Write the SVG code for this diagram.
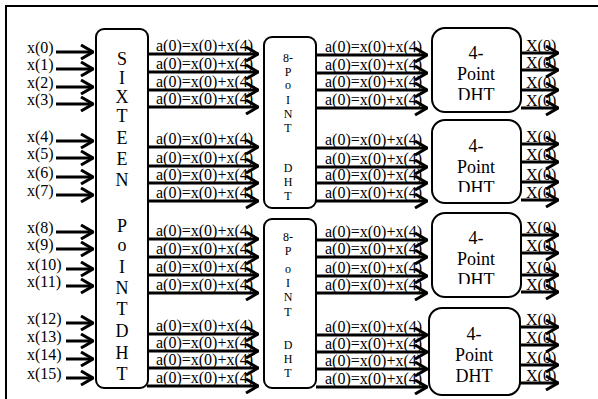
<svg xmlns="http://www.w3.org/2000/svg" width="598" height="399" viewBox="0 0 598 399">
<style>
.box{fill:#fff;stroke:#000;stroke-width:2}
.t{font-family:"Liberation Serif","Times New Roman",serif;fill:#000}
.lab{font-size:16px}
.big{font-size:18px;text-anchor:middle}
.sm{font-size:12px;text-anchor:middle}
.pt{font-size:18px;text-anchor:middle}
.w{stroke:#000;stroke-width:3;fill:none;marker-end:url(#chev)}
</style>
<defs>
<marker id="chev" viewBox="0 0 14 16" refX="13" refY="8" markerWidth="14" markerHeight="16" markerUnits="userSpaceOnUse" orient="auto">
<path d="M1,1 L13,8 L1,15" fill="none" stroke="#000" stroke-width="3"/>
</marker>
<clipPath id="c1"><rect x="432" y="28" width="89" height="72"/></clipPath>
<clipPath id="c2"><rect x="432" y="120" width="89" height="72"/></clipPath>
<clipPath id="c3"><rect x="432" y="213" width="89" height="71"/></clipPath>
</defs>
<rect width="598" height="399" fill="#fff"/>
<g id="frame" fill="none" stroke="#000" stroke-width="2">
<path d="M6,399 V6 H598"/>
</g>
<g id="sixteen">
<rect class="box" x="96" y="29" width="52" height="359" rx="8"/>
<g class="t big">
<text x="122" y="65">S</text><text x="122" y="84">I</text><text x="122" y="103">X</text><text x="122" y="122">T</text>
<text x="122" y="144">E</text><text x="122" y="165">E</text><text x="122" y="186">N</text>
<text x="122" y="232">P</text><text x="122" y="251">o</text><text x="122" y="273">I</text><text x="122" y="294">N</text>
<text x="122" y="315">T</text><text x="122" y="337">D</text><text x="122" y="359">H</text><text x="122" y="380">T</text>
</g>
</g>
<g id="dht8a">
<rect class="box" x="264" y="37" width="52" height="171" rx="8"/>
<g class="t sm">
<text x="288" y="62">8-</text><text x="288" y="76">P</text><text x="288" y="89">o</text><text x="288" y="104">I</text>
<text x="288" y="118">N</text><text x="288" y="132">T</text><text x="288" y="172">D</text><text x="288" y="186">H</text><text x="288" y="200">T</text>
</g>
</g>
<g id="dht8b">
<rect class="box" x="264" y="219" width="52" height="169" rx="8"/>
<g class="t sm">
<text x="288" y="241">8-</text><text x="288" y="255">P</text><text x="288" y="273">o</text><text x="288" y="287">I</text>
<text x="288" y="301">N</text><text x="288" y="316">T</text><text x="288" y="349">D</text><text x="288" y="363">H</text><text x="288" y="377">T</text>
</g>
</g>
<g id="dht4a">
<rect class="box" x="432" y="28" width="89" height="84" rx="13"/>
<g class="t pt" clip-path="url(#c1)"><text x="476" y="59">4-</text><text x="476" y="80">Point</text><text x="476" y="101">DHT</text></g>
</g>
<g id="dht4b">
<rect class="box" x="432" y="120" width="89" height="83" rx="13"/>
<g class="t pt" clip-path="url(#c2)"><text x="476" y="152">4-</text><text x="476" y="173">Point</text><text x="476" y="194">DHT</text></g>
</g>
<g id="dht4c">
<rect class="box" x="432" y="213" width="89" height="84" rx="13"/>
<g class="t pt" clip-path="url(#c3)"><text x="476" y="244">4-</text><text x="476" y="265">Point</text><text x="476" y="286">DHT</text></g>
</g>
<g id="dht4d">
<rect class="box" x="429" y="308" width="91" height="87" rx="13"/>
<g class="t pt"><text x="474" y="340">4-</text><text x="474" y="361">Point</text><text x="474" y="382">DHT</text></g>
</g>
<g id="input-labels" class="t lab">
<text x="27" y="53">x(0)</text><text x="27" y="70">x(1)</text><text x="27" y="88">x(2)</text><text x="27" y="105">x(3)</text>
<text x="27" y="142">x(4)</text><text x="27" y="159">x(5)</text><text x="27" y="178">x(6)</text><text x="27" y="196">x(7)</text>
<text x="27" y="233">x(8)</text><text x="27" y="250">x(9)</text><text x="27" y="270">x(10)</text><text x="27" y="287">x(11)</text>
<text x="27" y="324">x(12)</text><text x="27" y="342">x(13)</text><text x="27" y="360">x(14)</text><text x="27" y="379">x(15)</text>
</g>
<g id="mid-labels" class="t lab">
<text x="156" y="51">a(0)=x(0)+x(4)</text><text x="156" y="69">a(0)=x(0)+x(4)</text><text x="156" y="87">a(0)=x(0)+x(4)</text><text x="156" y="104">a(0)=x(0)+x(4)</text>
<text x="156" y="144">a(0)=x(0)+x(4)</text><text x="156" y="163">a(0)=x(0)+x(4)</text><text x="156" y="180">a(0)=x(0)+x(4)</text><text x="156" y="198">a(0)=x(0)+x(4)</text>
<text x="156" y="236">a(0)=x(0)+x(4)</text><text x="156" y="254">a(0)=x(0)+x(4)</text><text x="156" y="272">a(0)=x(0)+x(4)</text><text x="156" y="290">a(0)=x(0)+x(4)</text>
<text x="156" y="331">a(0)=x(0)+x(4)</text><text x="156" y="348">a(0)=x(0)+x(4)</text><text x="156" y="365">a(0)=x(0)+x(4)</text><text x="156" y="383">a(0)=x(0)+x(4)</text>
<text x="325" y="52">a(0)=x(0)+x(4)</text><text x="325" y="70">a(0)=x(0)+x(4)</text><text x="325" y="87">a(0)=x(0)+x(4)</text><text x="325" y="105">a(0)=x(0)+x(4)</text>
<text x="325" y="145">a(0)=x(0)+x(4)</text><text x="325" y="164">a(0)=x(0)+x(4)</text><text x="325" y="180">a(0)=x(0)+x(4)</text><text x="325" y="198">a(0)=x(0)+x(4)</text>
<text x="325" y="237">a(0)=x(0)+x(4)</text><text x="325" y="254">a(0)=x(0)+x(4)</text><text x="325" y="273">a(0)=x(0)+x(4)</text><text x="325" y="290">a(0)=x(0)+x(4)</text>
<text x="325" y="332">a(0)=x(0)+x(4)</text><text x="325" y="349">a(0)=x(0)+x(4)</text><text x="325" y="366">a(0)=x(0)+x(4)</text><text x="325" y="384">a(0)=x(0)+x(4)</text>
</g>
<g id="output-labels" class="t lab">
<text x="526" y="51">X(0)</text><text x="526" y="68">X(0)</text><text x="526" y="88">X(0)</text><text x="526" y="106">X(0)</text>
<text x="526" y="142">X(0)</text><text x="526" y="160">X(0)</text><text x="526" y="180">X(0)</text><text x="526" y="198">X(0)</text>
<text x="526" y="233">X(0)</text><text x="526" y="251">X(0)</text><text x="526" y="273">X(0)</text><text x="526" y="290">X(0)</text>
<text x="526" y="325">X(0)</text><text x="526" y="343">X(0)</text><text x="526" y="363">X(0)</text><text x="526" y="381">X(0)</text>
</g>
<g id="connectors">
<path class="w" d="M56,52H93"/><path class="w" d="M56,69H93"/><path class="w" d="M56,87H93"/><path class="w" d="M56,104H93"/>
<path class="w" d="M56,141H93"/><path class="w" d="M56,158H93"/><path class="w" d="M56,177H93"/><path class="w" d="M56,195H93"/>
<path class="w" d="M56,232H93"/><path class="w" d="M56,249H93"/><path class="w" d="M66,269H93"/><path class="w" d="M66,286H93"/>
<path class="w" d="M66,323H93"/><path class="w" d="M66,341H93"/><path class="w" d="M66,359H93"/><path class="w" d="M66,378H93"/>
<path class="w" d="M147,54H258"/><path class="w" d="M147,72H258"/><path class="w" d="M147,90H258"/><path class="w" d="M147,107H258"/>
<path class="w" d="M147,147H258"/><path class="w" d="M147,166H258"/><path class="w" d="M147,183H258"/><path class="w" d="M147,201H258"/>
<path class="w" d="M147,239H258"/><path class="w" d="M147,257H258"/><path class="w" d="M147,275H258"/><path class="w" d="M147,293H258"/>
<path class="w" d="M147,334H258"/><path class="w" d="M147,351H258"/><path class="w" d="M147,368H258"/><path class="w" d="M147,386H258"/>
<path class="w" d="M316,55H427"/><path class="w" d="M316,73H427"/><path class="w" d="M316,90H427"/><path class="w" d="M316,108H427"/>
<path class="w" d="M316,148H427"/><path class="w" d="M316,167H427"/><path class="w" d="M316,183H427"/><path class="w" d="M316,201H427"/>
<path class="w" d="M316,240H427"/><path class="w" d="M316,257H427"/><path class="w" d="M316,276H427"/><path class="w" d="M316,293H427"/>
<path class="w" d="M316,335H427"/><path class="w" d="M316,352H427"/><path class="w" d="M316,369H427"/><path class="w" d="M316,387H427"/>
<path class="w" d="M521,53H558"/><path class="w" d="M521,70H558"/><path class="w" d="M521,90H558"/><path class="w" d="M521,108H558"/>
<path class="w" d="M521,144H558"/><path class="w" d="M521,162H558"/><path class="w" d="M521,182H558"/><path class="w" d="M521,200H558"/>
<path class="w" d="M521,235H558"/><path class="w" d="M521,253H558"/><path class="w" d="M521,275H558"/><path class="w" d="M521,292H558"/>
<path class="w" d="M520,327H558"/><path class="w" d="M520,345H558"/><path class="w" d="M520,365H558"/><path class="w" d="M520,383H558"/>
</g>
</svg>
